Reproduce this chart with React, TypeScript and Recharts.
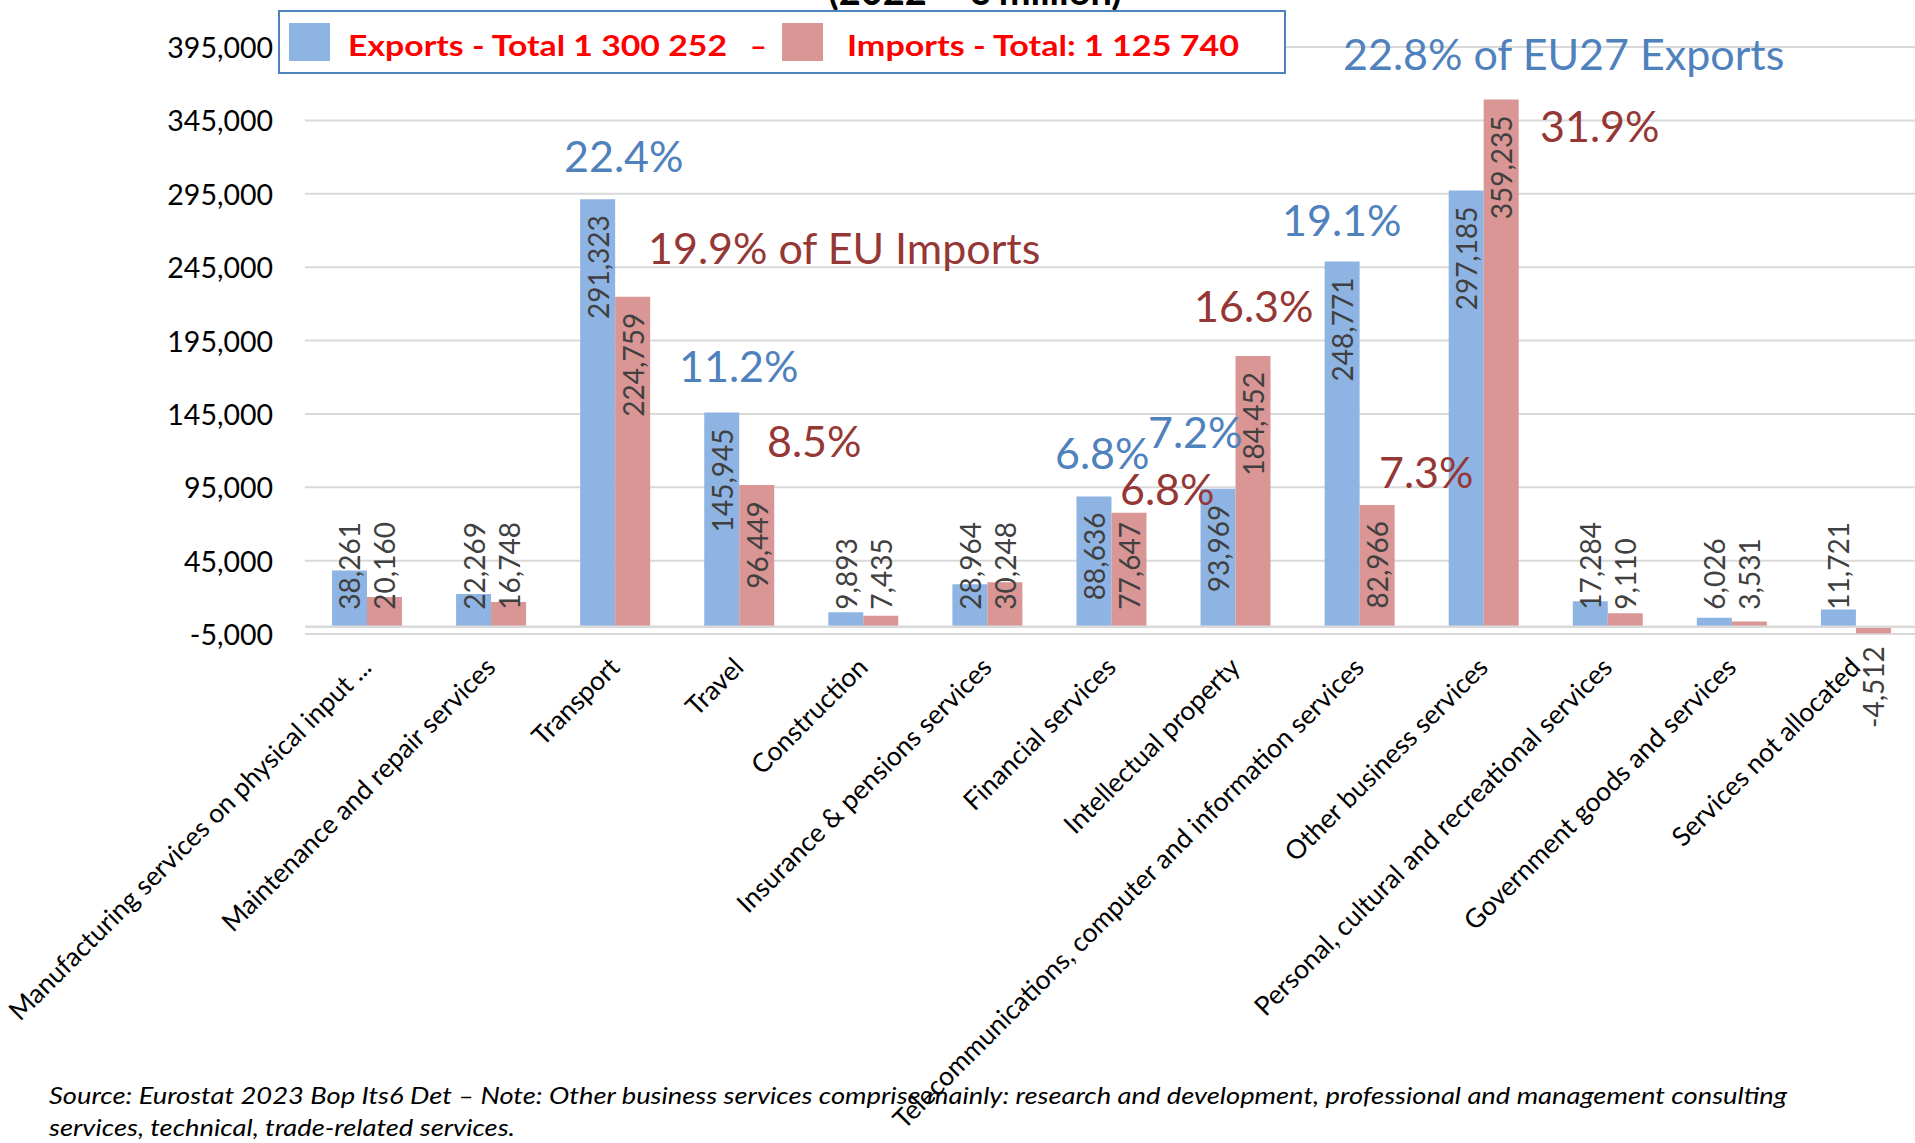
import React from "react";
import { BarChart, Bar, XAxis, YAxis, CartesianGrid, ReferenceLine } from "recharts";

const categories = [
  "Manufacturing services on physical input ...",
  "Maintenance and repair services",
  "Transport",
  "Travel",
  "Construction",
  "Insurance & pensions services",
  "Financial services",
  "Intellectual property",
  "Telecommunications, computer and information services",
  "Other business services",
  "Personal, cultural and recreational services",
  "Government goods and services",
  "Services not allocated",
];

const exportsValues = [38261, 22269, 291323, 145945, 9893, 28964, 88636, 93969, 248771, 297185, 17284, 6026, 11721];
const importsValues = [20160, 16748, 224759, 96449, 7435, 30248, 77647, 184452, 82966, 359235, 9110, 3531, -4512];

const yTicks = [-5000, 45000, 95000, 145000, 195000, 245000, 295000, 345000, 395000];

const legendExports = "Exports - Total 1 300 252";
const legendImports = "Imports - Total: 1 125 740";
const titleText = "(2022 – € million)";
const footLines = [
  "Source: Eurostat 2023 Bop Its6 Det – Note: Other business services comprise mainly: research and development, professional and management consulting",
  "services, technical, trade-related services.",
];

const BLUE_TEXT = "#4F81BD";
const RED_TEXT = "#953735";

// share annotations (text + where they sit on the page)
const annotations = [
  { text: "22.4%", color: BLUE_TEXT, x: 564, y: 172 },
  { text: "19.9% of EU Imports", color: RED_TEXT, x: 648, y: 264 },
  { text: "11.2%", color: BLUE_TEXT, x: 679, y: 382 },
  { text: "8.5%", color: RED_TEXT, x: 767, y: 457 },
  { text: "6.8%", color: BLUE_TEXT, x: 1055, y: 469 },
  { text: "7.2%", color: BLUE_TEXT, x: 1148, y: 448 },
  { text: "6.8%", color: RED_TEXT, x: 1120, y: 505 },
  { text: "16.3%", color: RED_TEXT, x: 1194, y: 322 },
  { text: "19.1%", color: BLUE_TEXT, x: 1282, y: 236 },
  { text: "7.3%", color: RED_TEXT, x: 1379, y: 488 },
  { text: "22.8% of EU27 Exports", color: BLUE_TEXT, x: 1343, y: 70 },
  { text: "31.9%", color: RED_TEXT, x: 1540, y: 142 },
];

const data = categories.map((name, i) => ({
  name,
  exports: exportsValues[i],
  imports: importsValues[i],
}));

const FONT = "Lato, 'Liberation Sans', sans-serif";
const fmt = (v: number) => v.toLocaleString("en-US");

function textWidth(s: string, size: number) {
  let w = 0;
  for (const c of s) w += c === "," ? 0.25 : c === "-" ? 0.33 : 0.58;
  return w * size;
}

function ValueLabel(props: any) {
  const { x, y, width, height, value } = props;
  if (value == null) return null;
  const h = Number(height);
  const cx = Number(x) + Number(width) / 2;
  const top = Math.min(Number(y), Number(y) + h);
  const bottom = Math.max(Number(y), Number(y) + h);
  const text = fmt(Number(value));
  const len = textWidth(text, 28);
  let ay = top + 16;
  let anchor = "end";
  if (Number(value) < 0) {
    ay = bottom + 13;
  } else if (ay + len > bottom - 17) {
    ay = bottom - 17;
    anchor = "start";
  }
  return (
    <text
      x={cx}
      y={ay}
      transform={`rotate(-90 ${cx} ${ay})`}
      textAnchor={anchor}
      dominantBaseline="central"
      fontSize={28}
      fontFamily={FONT}
      fill="#404040"
    >
      {text}
    </text>
  );
}

function XTick(props: any) {
  const { x, y, payload } = props;
  const ax = x + 6;
  const ay = y + 35;
  return (
    <text
      x={ax}
      y={ay}
      transform={`rotate(-45 ${ax} ${ay})`}
      textAnchor="end"
      fontSize={26.5}
      fontFamily={FONT}
      fill="#000"
    >
      {payload.value}
    </text>
  );
}

function YTick(props: any) {
  const { x, y, payload } = props;
  return (
    <text x={x} y={y} textAnchor="end" dominantBaseline="central" fontSize={28.5} fontFamily={FONT} fill="#000">
      {fmt(payload.value)}
    </text>
  );
}

export default function App() {
  return (
    <div
      style={{
        position: "absolute",
        left: 0,
        top: 0,
        width: 1915,
        height: 1143,
        overflow: "hidden",
        background: "#fff",
      }}
    >
      <BarChart
        width={1918}
        height={1143}
        data={data}
        margin={{ top: 47, right: 0, bottom: 0, left: 0 }}
        barGap={0}
      >
        <CartesianGrid vertical={false} stroke="#D9D9D9" strokeWidth={2} />
        <XAxis
          dataKey="name"
          interval={0}
          height={509}
          tickLine={false}
          axisLine={false}
          tickSize={0}
          tickMargin={0}
          tick={<XTick />}
        />
        <YAxis
          domain={[-5000, 395000]}
          ticks={yTicks}
          width={305}
          tickLine={false}
          axisLine={false}
          tickSize={0}
          tickMargin={32}
          tick={<YTick />}
          interval={0}
        />
        <ReferenceLine y={0} stroke="#D9D9D9" strokeWidth={2.5} />
        <Bar dataKey="exports" fill="#8EB4E3" barSize={35} isAnimationActive={false} label={<ValueLabel />} />
        <Bar dataKey="imports" fill="#D99694" barSize={35} isAnimationActive={false} label={<ValueLabel />} />
      </BarChart>

      <svg
        width={1915}
        height={1143}
        style={{ position: "absolute", left: 0, top: 0, pointerEvents: "none" }}
      >
        <text x={975} y={5} textAnchor="middle" fontSize={38} fontWeight={700} fontFamily={FONT} fill="#000">
          {titleText}
        </text>

        <rect x={279} y={11} width={1006} height={62} fill="#fff" stroke="#4F81BD" strokeWidth={2} />
        <rect x={289} y={23} width={41} height={38} fill="#8EB4E3" />
        <text
          x={348}
          y={56}
          fontSize={29}
          fontWeight={700}
          fontFamily={FONT}
          fill="#FF0000"
          textLength={379}
          lengthAdjust="spacingAndGlyphs"
        >
          {legendExports}
        </text>
        <text x={750} y={56} fontSize={29} fontWeight={700} fontFamily={FONT} fill="#FF0000">
          –
        </text>
        <rect x={782} y={23} width={41} height={38} fill="#D99694" />
        <text
          x={847}
          y={56}
          fontSize={29}
          fontWeight={700}
          fontFamily={FONT}
          fill="#FF0000"
          textLength={392}
          lengthAdjust="spacingAndGlyphs"
        >
          {legendImports}
        </text>

        {annotations.map((a, i) => (
          <text key={i} x={a.x} y={a.y} fontSize={43} fontFamily={FONT} fill={a.color}>
            {a.text}
          </text>
        ))}

        <text
          x={49}
          y={1104}
          fontSize={23}
          fontStyle="italic"
          fontFamily={FONT}
          fill="#000"
          textLength={1738}
          lengthAdjust="spacingAndGlyphs"
        >
          {footLines[0]}
        </text>
        <text
          x={49}
          y={1136}
          fontSize={23}
          fontStyle="italic"
          fontFamily={FONT}
          fill="#000"
          textLength={466}
          lengthAdjust="spacingAndGlyphs"
        >
          {footLines[1]}
        </text>
      </svg>
    </div>
  );
}
